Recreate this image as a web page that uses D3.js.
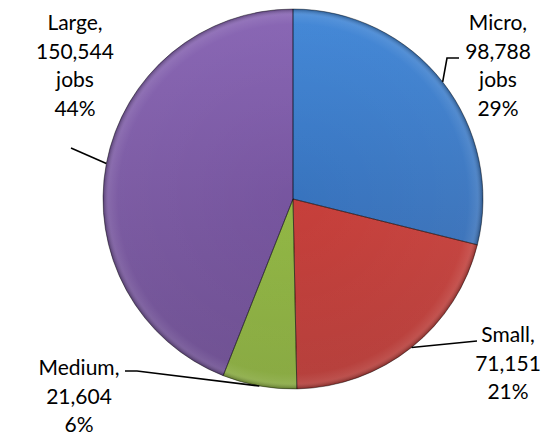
<!DOCTYPE html>
<html>
<head>
<meta charset="utf-8">
<script src="https://cdn.jsdelivr.net/npm/d3@7"></script>
<style>
  body { margin: 0; background: #fff; }
  text { font-family: Lato, "Open Sans", sans-serif; font-size: 21px; fill: #000; }
</style>
</head>
<body>
<div id="chart"></div>
<script>
// company size categories and jobs
var categories = ["Micro", "Small", "Medium", "Large"];
var jobs = [98788, 71151, 21604, 150544];
var labelLines = [
    ["Micro,", "98,788", "jobs", "29%"],
    ["Small,", "71,151", "21%"],
    ["Medium,", "21,604", "6%"],
    ["Large,", "150,544", "jobs", "44%"]
];

var width = 556, height = 438;
var cx = 293, cy = 199, radius = 190;

// top / bottom shade of each slice
var colors = {
    Micro:  ["#3d84d6", "#3363a6"],
    Small:  ["#dc4641", "#b23834"],
    Medium: ["#a0c94f", "#84a63b"],
    Large:  ["#8561b2", "#694a8d"]
};

// where each label block sits (center x, first baseline) and its leader elbow
var labelLayout = {
    Micro:  { x: 498, y: 30,  elbow: [[447, 58], [459, 58]] },
    Small:  { x: 508, y: 342, elbow: [[477, 341]] },
    Medium: { x: 79,  y: 375, elbow: [[137, 371], [125, 371]] },
    Large:  { x: 75,  y: 30,  elbow: [[71, 148]] }
};
var lineHeight = 28.6;

var data = categories.map(function (c, i) {
    return { name: c, value: jobs[i], lines: labelLines[i] };
});

var svg = d3.select("#chart").append("svg")
    .attr("width", width)
    .attr("height", height);

var defs = svg.append("defs");
categories.forEach(function (c) {
    var lg = defs.append("linearGradient")
        .attr("id", "grad-" + c)
        .attr("gradientUnits", "userSpaceOnUse")
        .attr("x1", 0).attr("y1", -radius)
        .attr("x2", 0).attr("y2", radius);
    lg.append("stop").attr("offset", "0%").attr("stop-color", colors[c][0]);
    lg.append("stop").attr("offset", "100%").attr("stop-color", colors[c][1]);
});

// soft bevel: lighter just inside the rim, dark right at the edge
var rim = defs.append("radialGradient")
    .attr("id", "rim")
    .attr("gradientUnits", "userSpaceOnUse")
    .attr("cx", 0).attr("cy", 0).attr("r", radius);
rim.append("stop").attr("offset", "0%").attr("stop-color", "#fff").attr("stop-opacity", 0);
rim.append("stop").attr("offset", "92%").attr("stop-color", "#fff").attr("stop-opacity", 0.04);
rim.append("stop").attr("offset", "97%").attr("stop-color", "#fff").attr("stop-opacity", 0.12);
rim.append("stop").attr("offset", "100%").attr("stop-color", "#000").attr("stop-opacity", 0.3);

var pie = d3.pie()
    .sort(null)
    .value(function (d) { return d.value; });

var arc = d3.arc()
    .innerRadius(0)
    .outerRadius(radius);

var arcs = pie(data);

var g = svg.append("g")
    .attr("transform", "translate(" + cx + "," + cy + ")");

g.selectAll("path.slice")
    .data(arcs)
    .enter()
    .append("path")
    .attr("class", "slice")
    .attr("d", arc)
    .attr("fill", function (d) { return "url(#grad-" + d.data.name + ")"; });

g.append("circle")
    .attr("r", radius)
    .attr("fill", "url(#rim)");

g.selectAll("path.edge")
    .data(arcs)
    .enter()
    .append("path")
    .attr("class", "edge")
    .attr("d", arc)
    .attr("fill", "none")
    .attr("stroke", "rgba(0,0,0,0.4)")
    .attr("stroke-width", 1);

//leader lines start on the slice edge at its mid angle
svg.selectAll("polyline.leader")
    .data(arcs)
    .enter()
    .append("polyline")
    .attr("class", "leader")
    .attr("fill", "none")
    .attr("stroke", "#000")
    .attr("stroke-width", 1.6)
    .attr("points", function (d) {
        var a = (d.startAngle + d.endAngle) / 2;
        var p = [cx + radius * Math.sin(a), cy - radius * Math.cos(a)];
        var pts = [p].concat(labelLayout[d.data.name].elbow);
        return pts.map(function (q) { return q.join(","); }).join(" ");
    });

// label blocks
var labels = svg.selectAll("text.label")
    .data(arcs)
    .enter()
    .append("text")
    .attr("class", "label")
    .attr("text-anchor", "middle");

labels.selectAll("tspan")
    .data(function (d) {
        return d.data.lines.map(function (t, i) {
            return { t: t, i: i, pos: labelLayout[d.data.name] };
        });
    })
    .enter()
    .append("tspan")
    .attr("x", function (d) { return d.pos.x; })
    .attr("y", function (d) { return d.pos.y + d.i * lineHeight; })
    .text(function (d) { return d.t; });
</script>
</body>
</html>
